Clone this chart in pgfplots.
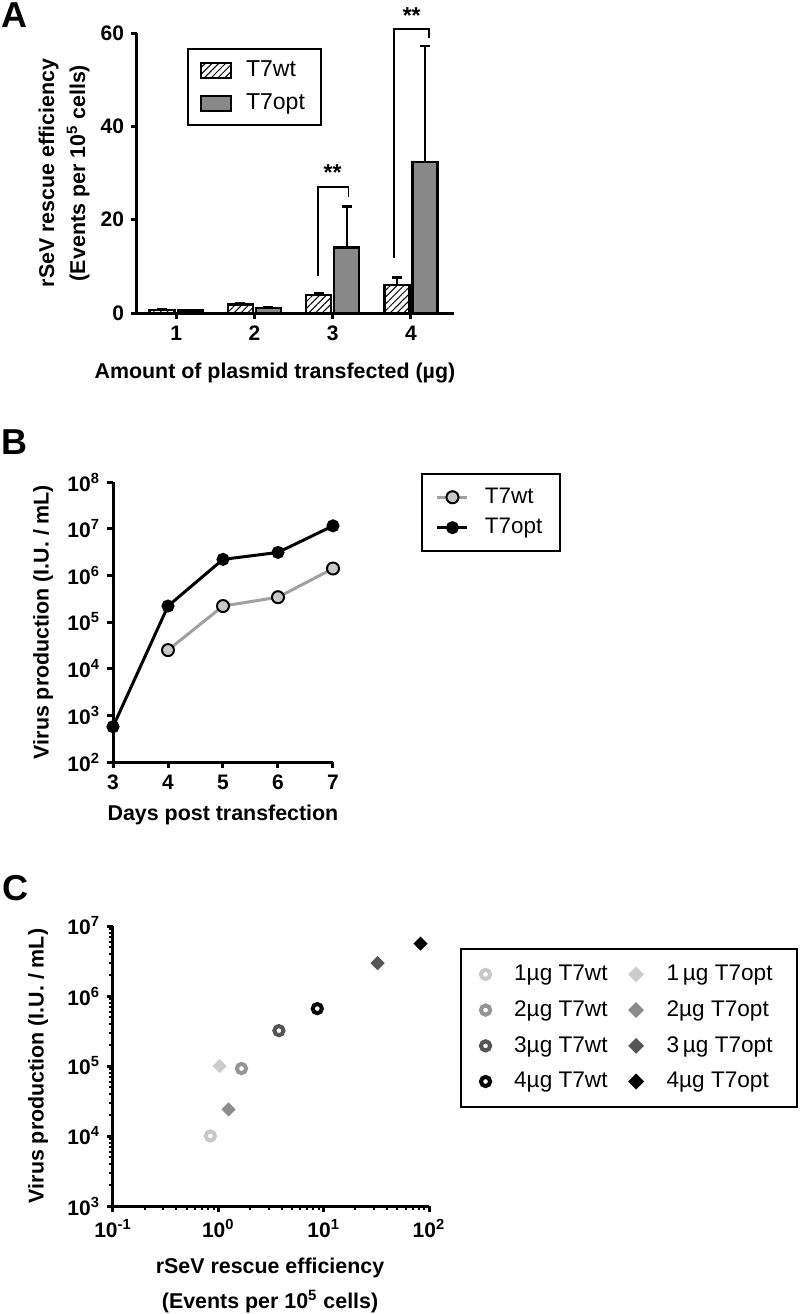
\documentclass[border=0pt]{standalone}
\usepackage{pgfplots}
\pgfplotsset{compat=1.18}
\usepackage{fontspec}
\setmainfont{Liberation Sans}
\usetikzlibrary{patterns.meta}
\definecolor{optgray}{HTML}{888888}
\definecolor{wtline}{HTML}{A0A0A0}
\definecolor{wtfill}{HTML}{C8C8C8}
\definecolor{gA}{HTML}{C8C8C8}
\definecolor{gB}{HTML}{959595}
\definecolor{gC}{HTML}{555555}
\definecolor{dA}{HTML}{CCCCCC}
\definecolor{dB}{HTML}{8C8C8C}
\definecolor{dC}{HTML}{555555}
\begin{document}
\begin{tikzpicture}
\useasboundingbox (0,0) rectangle (400pt,-657pt);
\pgfplotsset{
  gp/.style={
    scale only axis,
    axis x line*=bottom, axis y line*=left,
    axis line style={line width=1.5pt, -},
    major tick style={line width=1.5pt, black},
    minor tick style={line width=1pt, black},
    major tick length=3pt,
    minor tick length=2pt,
    tick align=outside,
    tick label style={font=\fontsize{10.5}{12}\selectfont\bfseries},
    label style={font=\fontsize{10.7}{15.5}\selectfont\bfseries, align=center},
    /pgf/number format/assume math mode=true,
    clip=false,
  }
}
\node[font=\fontsize{18}{20}\selectfont\bfseries] at (7pt,-7.5pt) {A};
\node[font=\fontsize{18}{20}\selectfont\bfseries] at (7pt,-221pt) {B};
\node[font=\fontsize{18}{20}\selectfont\bfseries] at (7.5pt,-444pt) {C};

% ---------------- Panel A
\begin{axis}[gp, at={(68.5pt,-156.5pt)}, anchor=south west,
  width=158.5pt, height=140pt,
  xmin=0.5, xmax=4.55, ymin=0, ymax=60,
  xtick={1,2,3,4}, xticklabels={1,2,3,4},
  ytick={0,20,40,60}, yticklabels={0,20,40,60},
  bar width=12.5pt,
  ylabel={rSeV rescue efficiency\\(Events per 10\textsuperscript{5} cells)},
  ylabel style={at={(rel axis cs:-0.23,0.5)}, anchor=center},
  xlabel={Amount of plasmid transfected (µg)},
  xlabel style={at={(rel axis cs:0.435,-0.214)}, anchor=center},
  legend style={at={(rel axis cs:0.158,0.946)}, anchor=north west,
    draw=black, line width=1pt, font=\fontsize{11.5}{13}\selectfont,
    inner xsep=6pt, inner ysep=4pt, row sep=3pt,
    /tikz/every odd column/.append style={column sep=5pt}},
  legend cell align=left,
  legend image code/.code={\draw[#1, line width=1pt] (0pt,-3.75pt) rectangle (15pt,3.75pt);},
]
\addplot[ybar, bar shift=0pt, draw=black, line width=1.2pt,
  pattern={Lines[angle=45,distance=2.4pt,line width=0.5pt]},
  error bars/.cd, y dir=plus, y explicit,
  error bar style={line width=1.2pt, black, solid},
  error mark options={rotate=90, mark size=2.5pt, line width=1.2pt, black}]
  coordinates {(0.82,0.6) +- (0,0.3) (1.82,1.8) +- (0,0.4) (2.82,3.8) +- (0,0.5) (3.82,6.0) +- (0,1.6)};
\addlegendentry{T7wt}
\addplot[ybar, bar shift=0pt, draw=black, fill=optgray, line width=1.2pt,
  error bars/.cd, y dir=plus, y explicit,
  error bar style={line width=1.2pt, black, solid},
  error mark options={rotate=90, mark size=2.5pt, line width=1.2pt, black}]
  coordinates {(1.18,0.5) +- (0,0.2) (2.18,1.1) +- (0,0.2) (3.18,14.0) +- (0,8.8) (4.18,32.3) +- (0,24.9)};
\addlegendentry{T7opt}
\draw[line width=0.8pt] (axis cs:2.81,7.9) -- (axis cs:2.81,27) -- (axis cs:3.2,27) -- (axis cs:3.2,24.9);
\node[font=\fontsize{11.5}{12}\selectfont\bfseries] at (axis cs:3.0,30) {**};
\draw[line width=0.8pt] (axis cs:3.78,11.8) -- (axis cs:3.78,60.9) -- (axis cs:4.23,60.9) -- (axis cs:4.23,58.9);
\node[font=\fontsize{11.5}{12}\selectfont\bfseries] at (axis cs:4.01,63.8) {**};
\end{axis}

% ---------------- Panel B
\begin{axis}[gp, at={(56.5pt,-381pt)}, anchor=south west,
  width=110pt, height=140pt,
  xmin=3, xmax=7, ymode=log, ymin=1e2, ymax=1e8,
  xtick={3,4,5,6,7}, xticklabels={3,4,5,6,7},
  ytick={1e2,1e3,1e4,1e5,1e6,1e7,1e8},
  yticklabels={10\textsuperscript{2},10\textsuperscript{3},10\textsuperscript{4},10\textsuperscript{5},10\textsuperscript{6},10\textsuperscript{7},10\textsuperscript{8}},
  yminorticks=false,
  ylabel={Virus production (I.U. / mL)},
  ylabel style={at={(rel axis cs:-0.318,0.5)}, anchor=center},
  xlabel={Days post transfection},
  xlabel style={at={(rel axis cs:0.5,-0.19)}, anchor=center},
  legend style={at={(rel axis cs:1.4,1.032)}, anchor=north west,
    draw=black, line width=1pt, font=\fontsize{11.2}{13}\selectfont,
    inner xsep=7pt, inner ysep=5pt, row sep=2pt,
    /tikz/every odd column/.append style={column sep=6pt}},
  legend cell align=left,
  legend image code/.code={\draw[#1, mark repeat=2, mark phase=2] plot coordinates {(0pt,0pt) (7.5pt,0pt) (15pt,0pt)};},
]
\addplot[wtline, line width=1.5pt, mark=*, mark size=3pt,
  mark options={fill=wtfill, draw=black, line width=1pt}]
  coordinates {(4,2.5e4) (5,2.2e5) (6,3.4e5) (7,1.4e6)};
\addlegendentry{T7wt}
\addplot[black, line width=1.5pt, mark=*, mark size=2.5pt, mark options={fill=black}]
  coordinates {(3,570) (4,2.2e5) (5,2.2e6) (6,3.1e6) (7,1.15e7)};
\addlegendentry{T7opt}
\end{axis}

% ---------------- Panel C
\begin{axis}[gp, at={(56.5pt,-603pt)}, anchor=south west,
  width=158pt, height=140pt,
  xmode=log, ymode=log, xmin=0.1, xmax=100, ymin=1e3, ymax=1e7,
  xtick={0.1,1,10,100},
  xticklabels={10\textsuperscript{-1},10\textsuperscript{0},10\textsuperscript{1},10\textsuperscript{2}},
  ytick={1e3,1e4,1e5,1e6,1e7},
  yticklabels={10\textsuperscript{3},10\textsuperscript{4},10\textsuperscript{5},10\textsuperscript{6},10\textsuperscript{7}},
  ylabel={Virus production (I.U. / mL)},
  ylabel style={at={(rel axis cs:-0.237,0.5)}, anchor=center},
  xlabel={rSeV rescue efficiency\\(Events per 10\textsuperscript{5} cells)},
  xlabel style={at={(rel axis cs:0.497,-0.282)}, anchor=center, font=\fontsize{10.7}{17.5}\selectfont\bfseries},
  legend columns=2,
  legend style={at={(rel axis cs:1.098,0.921)}, anchor=north west,
    draw=black, line width=1pt, font=\fontsize{11.3}{13}\selectfont,
    inner xsep=10pt, inner ysep=6pt, row sep=4.5pt,
    /tikz/every odd column/.append style={column sep=10pt},
    /tikz/every even column/.append style={column sep=9pt}},
  legend cell align=left,
]
\addplot[only marks, mark=o, mark size=2.3pt, mark options={draw=gA, line width=2pt}] coordinates {(0.84,1.0e4)};
\addlegendentry{1µg T7wt}
\addplot[only marks, mark=square*, mark size=2.3pt, mark options={draw=dA, fill=dA, rotate=45}] coordinates {(1.03,1.0e5)};
\addlegendentry{1\,µg T7opt}
\addplot[only marks, mark=o, mark size=2.3pt, mark options={draw=gB, line width=2pt}] coordinates {(1.66,9.2e4)};
\addlegendentry{2µg T7wt}
\addplot[only marks, mark=square*, mark size=2.3pt, mark options={draw=dB, fill=dB, rotate=45}] coordinates {(1.25,2.4e4)};
\addlegendentry{2µg T7opt}
\addplot[only marks, mark=o, mark size=2.3pt, mark options={draw=gC, line width=2pt}] coordinates {(3.76,3.2e5)};
\addlegendentry{3µg T7wt}
\addplot[only marks, mark=square*, mark size=2.3pt, mark options={draw=dC, fill=dC, rotate=45}] coordinates {(32.5,2.95e6)};
\addlegendentry{3\,µg T7opt}
\addplot[only marks, mark=o, mark size=2.3pt, mark options={draw=black, line width=2pt}] coordinates {(8.7,6.6e5)};
\addlegendentry{4µg T7wt}
\addplot[only marks, mark=square*, mark size=2.3pt, mark options={draw=black, fill=black, rotate=45}] coordinates {(83,5.6e6)};
\addlegendentry{4µg T7opt}
\end{axis}
\end{tikzpicture}
\end{document}
